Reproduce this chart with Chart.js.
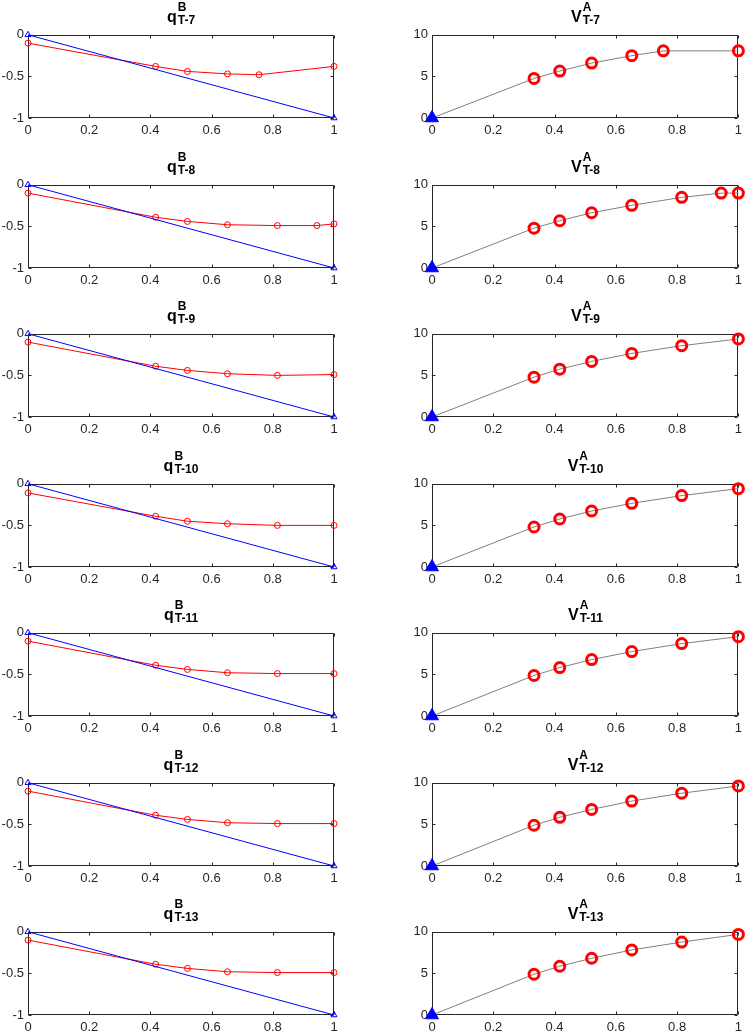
<!DOCTYPE html>
<html>
<head>
<meta charset="utf-8">
<script src="https://cdn.jsdelivr.net/npm/chart.js@4.4.1/dist/chart.umd.min.js"></script>
<style>
  body { margin: 0; background: #fff; }
  #fig { position: relative; width: 747px; height: 1035px; overflow: hidden; }
  canvas { position: absolute; }
  .ttl { position: absolute; transform: translateX(-50%); white-space: nowrap;
         font-family: 'Liberation Sans', Arial, sans-serif; font-weight: bold; color: #000; }
  .ttl .m { display: inline-block; vertical-align: top; font-size: 16px; line-height: 16px; margin-top: 8px; }
  .ttl .ss { display: inline-block; vertical-align: top; font-size: 12px; line-height: 12px; margin-left: 1px; }
  .ttl .ss span { display: block; }
  .ttl .sb { margin-top: 1px; }
</style>
</head>
<body>
<div id="fig"></div>
<script>
// periods shown down the page
const periods = ['T-7', 'T-8', 'T-9', 'T-10', 'T-11', 'T-12', 'T-13'];

// tick labels
const xTicks = [0, 0.2, 0.4, 0.6, 0.8, 1];
const qTicks = [-1, -0.5, 0];
const vTicks = [0, 5, 10];

// left column: q^B (red) and the reference line (blue)
const refX = [0, 1];
const refY = [0, -1];

const qX_T7 = [0, 0.417, 0.521, 0.652, 0.755, 1];
const qY_T7 = [-0.10, -0.38, -0.44, -0.47, -0.48, -0.38];
const qX_T8 = [0, 0.417, 0.521, 0.652, 0.815, 0.944, 1];
const qY_T8 = [-0.10, -0.39, -0.44, -0.48, -0.49, -0.49, -0.47];
const qX_T9 = [0, 0.417, 0.521, 0.652, 0.815, 1];
const qY_T9 = [-0.10, -0.39, -0.44, -0.48, -0.50, -0.49];
const qY_T10 = [-0.11, -0.39, -0.45, -0.48, -0.50, -0.50];
const qY_T11 = [-0.10, -0.39, -0.44, -0.48, -0.49, -0.49];
const qY_T12 = [-0.10, -0.39, -0.44, -0.48, -0.49, -0.49];
const qY_T13 = [-0.10, -0.39, -0.44, -0.48, -0.49, -0.49];

// right column: V^A, first point is the blue start point
const vX_T7 = [0, 0.333, 0.417, 0.521, 0.652, 0.755, 1];
const vY_T7 = [0, 4.75, 5.64, 6.60, 7.49, 8.07, 8.07];
const vX_T8 = [0, 0.333, 0.417, 0.521, 0.652, 0.815, 0.944, 1];
const vY_T8 = [0, 4.79, 5.68, 6.64, 7.53, 8.49, 9.00, 9.00];
const vX_T9 = [0, 0.333, 0.417, 0.521, 0.652, 0.815, 1];
const vY_T9 = [0, 4.79, 5.75, 6.68, 7.64, 8.57, 9.38];
const vY_T10 = [0, 4.81, 5.77, 6.73, 7.65, 8.58, 9.42];
const vY_T11 = [0, 4.87, 5.82, 6.78, 7.74, 8.70, 9.54];
const vY_T12 = [0, 4.90, 5.85, 6.80, 7.80, 8.75, 9.62];
const vY_T13 = [0, 4.90, 5.86, 6.82, 7.82, 8.77, 9.69];

const qRows = [
  [qX_T7, qY_T7], [qX_T8, qY_T8], [qX_T9, qY_T9], [qX_T9, qY_T10],
  [qX_T9, qY_T11], [qX_T9, qY_T12], [qX_T9, qY_T13]
];
const vRows = [
  [vX_T7, vY_T7], [vX_T8, vY_T8], [vX_T9, vY_T9], [vX_T9, vY_T10],
  [vX_T9, vY_T11], [vX_T9, vY_T12], [vX_T9, vY_T13]
];

Chart.defaults.font.family = "'Liberation Sans', Arial, sans-serif";
Chart.defaults.font.size = 13;
Chart.defaults.color = '#262626';

const pts = (xs, ys) => xs.map((x, i) => ({ x: x, y: ys[i] }));

// matlab style box with inward ticks on all four sides
const boxTicks = {
  id: 'boxTicks',
  beforeDatasetsDraw(chart) {
    const ctx = chart.ctx;
    const a = chart.chartArea;
    const sx = chart.scales.x, sy = chart.scales.y;
    const L = Math.round(a.left) + 0.5, R = Math.round(a.right) - 0.5;
    const T = Math.round(a.top) + 0.5, B = Math.round(a.bottom) - 0.5;
    ctx.save();
    ctx.strokeStyle = '#262626';
    ctx.lineWidth = 1;
    ctx.beginPath();
    ctx.rect(L, T, R - L, B - T);
    sx.ticks.forEach(t => {
      const px = Math.round(sx.getPixelForValue(t.value)) + 0.5;
      ctx.moveTo(px, B); ctx.lineTo(px, B - 3);
      ctx.moveTo(px, T); ctx.lineTo(px, T + 3);
    });
    sy.ticks.forEach(t => {
      const py = Math.round(sy.getPixelForValue(t.value)) + 0.5;
      ctx.moveTo(L, py); ctx.lineTo(L + 3, py);
      ctx.moveTo(R, py); ctx.lineTo(R - 3, py);
    });
    ctx.stroke();
    ctx.restore();
  }
};

function axes(yMin, yMax, yTicks, yWidth) {
  return {
    x: {
      type: 'linear', min: 0, max: 1,
      afterBuildTicks: s => { s.ticks = xTicks.map(v => ({ value: v })); },
      afterFit: s => { s.height = 20; },
      grid: { display: false, drawTicks: false },
      border: { display: false },
      ticks: { padding: 5, maxRotation: 0, autoSkip: false, callback: v => String(v) }
    },
    y: {
      type: 'linear', min: yMin, max: yMax,
      afterBuildTicks: s => { s.ticks = yTicks.map(v => ({ value: v })); },
      afterFit: s => { s.width = yWidth; },
      grid: { display: false, drawTicks: false },
      border: { display: false },
      ticks: { padding: 4, callback: v => String(v) }
    }
  };
}

const fig = document.getElementById('fig');

function addCanvas(left, top, w, h) {
  const c = document.createElement('canvas');
  c.width = w; c.height = h;
  c.style.left = left + 'px'; c.style.top = top + 'px';
  fig.appendChild(c);
  return c;
}

function addTitle(cx, top, main, sup, sub) {
  const d = document.createElement('div');
  d.className = 'ttl';
  d.style.left = cx + 'px';
  d.style.top = top + 'px';
  d.innerHTML = '<span class="m">' + main + '</span><span class="ss"><span class="sp">' +
    sup + '</span><span class="sb">' + sub + '</span></span>';
  fig.appendChild(d);
}

const baseOpts = {
  responsive: false,
  animation: false,
  events: [],
  plugins: { legend: { display: false }, tooltip: { enabled: false } }
};

periods.forEach((p, r) => {
  const plotTop = 31 + r * 149.5;
  const q = qRows[r], v = vRows[r];

  // left panel
  const c1 = addCanvas(0, Math.round(plotTop) - 8, 345, 115);
  new Chart(c1, {
    type: 'scatter',
    data: {
      datasets: [
        {
          data: pts(refX, refY), showLine: true, borderColor: '#0000ff', borderWidth: 1,
          pointStyle: 'triangle', pointRadius: 3.5, pointBorderColor: '#0000ff',
          pointBackgroundColor: 'rgba(0,0,0,0)', pointBorderWidth: 1, clip: false
        },
        {
          data: pts(q[0], q[1]), showLine: true, borderColor: '#ff0000', borderWidth: 1,
          pointStyle: 'circle', pointRadius: 3, pointBorderColor: '#ff0000',
          pointBackgroundColor: 'rgba(0,0,0,0)', pointBorderWidth: 1, clip: false
        }
      ]
    },
    options: Object.assign({}, baseOpts, {
      layout: { padding: { top: 8, right: 11, left: 0, bottom: 0 } },
      scales: axes(-1, 0, qTicks, 28)
    }),
    plugins: [boxTicks]
  });
  addTitle(181, Math.round(plotTop) - 30, 'q', 'B', p);

  // right panel
  const c2 = addCanvas(395, Math.round(plotTop) - 8, 352, 115);
  new Chart(c2, {
    type: 'scatter',
    data: {
      datasets: [
        {
          data: pts(v[0].slice(0, 1), v[1].slice(0, 1)), showLine: false,
          pointStyle: 'triangle', pointRadius: 7.5, pointBorderColor: '#0000ff',
          pointBackgroundColor: '#0000ff', pointBorderWidth: 1, clip: false
        },
        {
          data: pts(v[0].slice(1), v[1].slice(1)), showLine: false,
          pointStyle: 'circle', pointRadius: 5, pointBorderColor: '#ff0000',
          pointBackgroundColor: 'rgba(0,0,0,0)', pointBorderWidth: 3, clip: false
        },
        {
          data: pts(v[0], v[1]), showLine: true, borderColor: '#808080', borderWidth: 1,
          pointRadius: 0, clip: false
        }
      ]
    },
    options: Object.assign({}, baseOpts, {
      layout: { padding: { top: 8, right: 8, left: 0, bottom: 0 } },
      scales: axes(0, 10, vTicks, 37)
    }),
    plugins: [boxTicks]
  });
  addTitle(585.5, Math.round(plotTop) - 30, 'V', 'A', p);
});
</script>
</body>
</html>
